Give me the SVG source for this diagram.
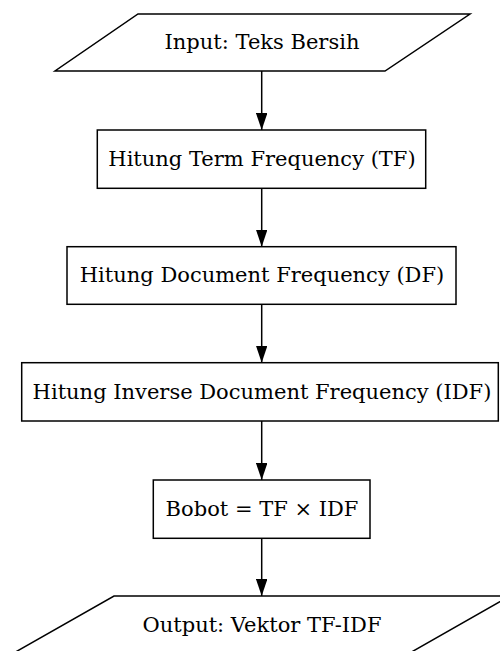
<svg xmlns="http://www.w3.org/2000/svg" width="500" height="651" viewBox="0 0 500 651">
<defs>
<style>
.n{fill:#fff;stroke:#000;stroke-width:1.5}
.t{font-family:"DejaVu Serif",serif;font-size:21px;fill:#000;text-anchor:middle}
.e{stroke:#000;stroke-width:1.5;fill:none}
</style>
<marker id="ah" markerUnits="userSpaceOnUse" markerWidth="17" markerHeight="11.5" refX="17" refY="5.75" orient="auto" viewBox="0 0 17 11.5">
<path d="M0,0 L17,5.75 L0,11.5 Z" fill="#000"/>
</marker>
</defs>
<rect width="500" height="651" fill="#fff"/>
<g id="input">
<polygon class="n" points="138,14 470,14 385,71 55,71"/>
<text class="t" x="262" y="49">Input: Teks Bersih</text>
</g>
<g id="tf">
<rect class="n" x="97.3" y="130" width="328.4" height="58.3"/>
<text class="t" x="262" y="165.5">Hitung Term Frequency (TF)</text>
</g>
<g id="df">
<rect class="n" x="67" y="246.7" width="389" height="57.6"/>
<text class="t" x="262" y="282">Hitung Document Frequency (DF)</text>
</g>
<g id="idf">
<rect class="n" x="21.7" y="362.7" width="476.6" height="58.3"/>
<text class="t" x="262" y="399">Hitung Inverse Document Frequency (IDF)</text>
</g>
<g id="bobot">
<rect class="n" x="153.3" y="480" width="216.7" height="58.3"/>
<text class="t" x="262" y="515.5">Bobot = TF × IDF</text>
</g>
<g id="output">
<polygon class="n" points="114,596 510,596 408,654 12,654"/>
<text class="t" x="262" y="631.5">Output: Vektor TF-IDF</text>
</g>
<g id="edges">
<line class="e" x1="261.7" y1="71" x2="261.7" y2="130" marker-end="url(#ah)"/>
<line class="e" x1="261.7" y1="188.3" x2="261.7" y2="246.7" marker-end="url(#ah)"/>
<line class="e" x1="261.7" y1="304.3" x2="261.7" y2="362.7" marker-end="url(#ah)"/>
<line class="e" x1="261.7" y1="421" x2="261.7" y2="480" marker-end="url(#ah)"/>
<line class="e" x1="261.7" y1="538.3" x2="261.7" y2="596" marker-end="url(#ah)"/>
</g>
</svg>
